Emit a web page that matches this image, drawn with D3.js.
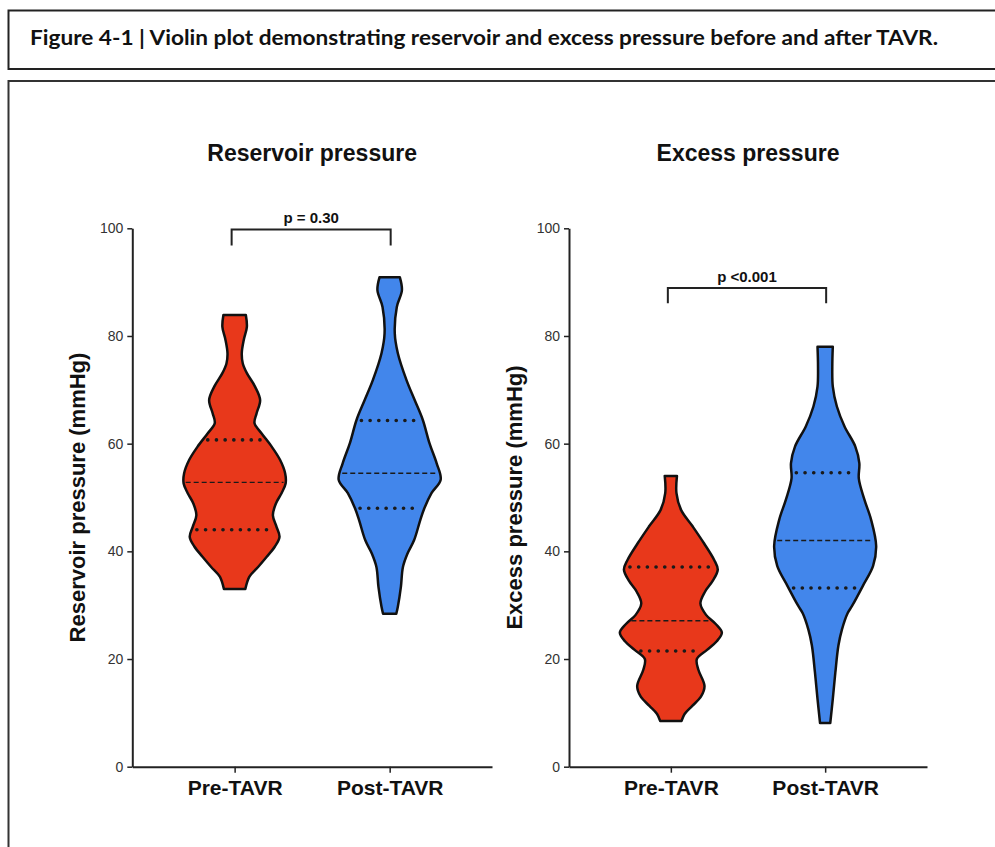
<!DOCTYPE html>
<html>
<head>
<meta charset="utf-8">
<script src="https://cdn.jsdelivr.net/npm/d3@7"></script>
<style>
  html, body { margin: 0; padding: 0; background: #fff; }
  svg { display: block; }
</style>
</head>
<body>
<script>
// ---------------- DATA ----------------
const figureCaption = "Figure 4-1 | Violin plot demonstrating reservoir and excess pressure before and after TAVR.";
const categories = ["Pre-TAVR", "Post-TAVR"];
const panelTitles = ["Reservoir pressure", "Excess pressure"];
const yAxisTitles = ["Reservoir pressure (mmHg)", "Excess pressure (mmHg)"];
const yTicks = [0, 20, 40, 60, 80, 100];
const pLabels = ["p = 0.30", "p <0.001"];
const bracketTop = [99.8, 88.9];      // mmHg level of comparison bracket
const bracketDrop = [3.0, 2.8];       // mmHg length of bracket legs

// violin outlines: value (mmHg) and relative density (0-1)
const reservoirPreValues  = [83.9, 81.7, 79.3, 76.8, 74.9, 73.1, 70.6, 68.1, 65.6, 63.8, 61.9, 59.4, 57.0, 54.5, 52.6, 50.8, 48.9, 46.7, 44.6, 42.7, 40.9, 39.0, 37.1, 35.3, 33.0];
const reservoirPreDensity = [0.22, 0.24, 0.18, 0.14, 0.16, 0.24, 0.40, 0.50, 0.43, 0.39, 0.53, 0.73, 0.89, 0.99, 1.00, 0.92, 0.81, 0.75, 0.82, 0.88, 0.79, 0.63, 0.46, 0.29, 0.21];

const reservoirPostValues  = [90.9, 88.5, 85.4, 80.5, 76.8, 71.8, 68.1, 64.4, 60.1, 56.4, 53.3, 50.8, 48.0, 45.8, 42.1, 39.6, 37.1, 33.4, 29.7, 28.4];
const reservoirPostDensity = [0.20, 0.24, 0.14, 0.10, 0.16, 0.33, 0.49, 0.65, 0.78, 0.92, 1.00, 0.82, 0.68, 0.60, 0.48, 0.35, 0.26, 0.22, 0.16, 0.13];

const excessPreValues  = [54.0, 50.8, 47.7, 44.6, 41.5, 38.4, 36.6, 34.5, 32.5, 30.3, 28.2, 26.5, 24.9, 23.3, 21.7, 20.0, 18.0, 15.0, 13.0, 11.3, 9.8, 8.5];
const excessPreDensity = [0.12, 0.11, 0.20, 0.43, 0.65, 0.85, 0.92, 0.82, 0.67, 0.58, 0.69, 0.88, 1.00, 0.90, 0.71, 0.51, 0.54, 0.66, 0.59, 0.42, 0.27, 0.21];

const excessPostValues  = [78.0, 74.3, 70.6, 66.9, 63.2, 59.5, 56.4, 53.5, 49.6, 45.9, 41.0, 37.3, 33.6, 29.9, 28.5, 25.5, 22.5, 17.5, 12.6, 8.1];
const excessPostDensity = [0.15, 0.14, 0.15, 0.23, 0.38, 0.59, 0.67, 0.66, 0.77, 0.90, 1.00, 0.94, 0.74, 0.53, 0.44, 0.33, 0.26, 0.20, 0.15, 0.10];

// medians and quartiles [Q1, median, Q3]
const reservoirPreStats  = [44.0, 52.8, 60.7];
const reservoirPostStats = [48.0, 54.5, 64.3];
const excessPreStats     = [21.5, 27.1, 37.1];
const excessPostStats    = [33.2, 42.0, 54.6];

const groupColors = ["#E8381B", "#4286EB"];

// ---------------- BUILD ----------------
const W = 995, H = 847;
const svg = d3.select("body").append("svg").attr("width", W).attr("height", H);

// frames
svg.append("rect").attr("x", 8.5).attr("y", 10.5).attr("width", 1000).attr("height", 58.5)
  .attr("fill", "none").attr("stroke", "#222").attr("stroke-width", 2);
svg.append("rect").attr("x", 8.5).attr("y", 81).attr("width", 1000).attr("height", 800)
  .attr("fill", "none").attr("stroke", "#333").attr("stroke-width", 2);

svg.append("text").attr("x", 30).attr("y", 44.5)
  .attr("font-family", "Lato, 'Open Sans', sans-serif").attr("font-weight", 700)
  .attr("font-size", 21).attr("fill", "#111")
  .attr("textLength", 908).attr("lengthAdjust", "spacingAndGlyphs")
  .text(figureCaption);

const panels = [
  { title: panelTitles[0], ytitle: yAxisTitles[0], x0: 132.3, x1: 492,
    violins: [
      { values: reservoirPreValues, density: reservoirPreDensity, stats: reservoirPreStats },
      { values: reservoirPostValues, density: reservoirPostDensity, stats: reservoirPostStats }],
    p: pLabels[0], bTop: bracketTop[0], bDrop: bracketDrop[0] },
  { title: panelTitles[1], ytitle: yAxisTitles[1], x0: 569, x1: 927,
    violins: [
      { values: excessPreValues, density: excessPreDensity, stats: excessPreStats },
      { values: excessPostValues, density: excessPostDensity, stats: excessPostStats }],
    p: pLabels[1], bTop: bracketTop[1], bDrop: bracketDrop[1] }
];

const y = d3.scaleLinear().domain([0, 100]).range([766.7, 228.3]);
const w = d3.scaleLinear().domain([0, 1]).range([0, 51]);
const FONT = "'Liberation Sans', Arial, Helvetica, sans-serif";

function densityAt(vals, dens, v) {
  for (let i = 0; i < vals.length - 1; i++) {
    const a = vals[i], b = vals[i + 1];
    if (v <= a && v >= b) {
      const t = (a - v) / (a - b);
      return dens[i] + t * (dens[i + 1] - dens[i]);
    }
  }
  return 0;
}

panels.forEach(p => {
  const g = svg.append("g");
  const x = d3.scalePoint().domain(categories).range([p.x0, p.x1]).padding(0.66);
  const cx = (p.x0 + p.x1) / 2;

  g.append("text").attr("x", cx).attr("y", 161).attr("text-anchor", "middle")
    .attr("font-family", FONT).attr("font-weight", 700).attr("font-size", 23).attr("fill", "#111")
    .text(p.title);

  const ym = (y(0) + y(100)) / 2;
  g.append("text").attr("transform", `translate(${p.x0 - 47.3},${ym}) rotate(-90)`)
    .attr("text-anchor", "middle")
    .attr("font-family", FONT).attr("font-weight", 700).attr("font-size", 22).attr("fill", "#111")
    .text(p.ytitle);

  p.violins.forEach((vd, i) => {
    const c = x(categories[i]);
    const pts = vd.values.map((v, k) => [v, vd.density[k]]);
    const area = d3.area()
      .y(d => y(d[0]))
      .x0(d => c - w(d[1]))
      .x1(d => c + w(d[1]))
      .curve(d3.curveCatmullRom.alpha(0.5));
    g.append("path").datum(pts).attr("d", area)
      .attr("fill", groupColors[i]).attr("stroke", "#111").attr("stroke-width", 2.5)
      .attr("stroke-linejoin", "round");

    vd.stats.forEach((s, k) => {
      const half = w(densityAt(vd.values, vd.density, s));
      const isMedian = k === 1;
      const inset = isMedian ? 2 : 5;
      g.append("line")
        .attr("x1", c - half + inset).attr("x2", c + half - inset)
        .attr("y1", y(s)).attr("y2", y(s))
        .attr("stroke", "#1a1a1a")
        .attr("stroke-width", isMedian ? 1.4 : 3.6)
        .attr("stroke-linecap", isMedian ? "butt" : "round")
        .attr("stroke-dasharray", isMedian ? "5,3" : "0.1,8.6");
    });
  });

  const ya = g.append("g").attr("transform", `translate(${p.x0},0)`)
    .call(d3.axisLeft(y).tickValues(yTicks).tickFormat(d3.format("d")).tickSize(5).tickSizeOuter(0).tickPadding(4));
  ya.select(".domain").attr("stroke", "#222").attr("stroke-width", 2);
  ya.selectAll(".tick line").attr("stroke", "#222").attr("stroke-width", 1.5);
  ya.selectAll(".tick text").attr("font-family", FONT).attr("font-size", 14).attr("fill", "#333");

  const xa = g.append("g").attr("transform", `translate(0,${y(0)})`)
    .call(d3.axisBottom(x).tickSize(6).tickSizeOuter(0));
  xa.select(".domain").attr("stroke", "#222").attr("stroke-width", 2);
  xa.selectAll(".tick line").attr("stroke", "#222").attr("stroke-width", 1.5);
  xa.selectAll(".tick text").attr("font-family", FONT).attr("font-weight", 700)
    .attr("font-size", 21).attr("fill", "#111").attr("y", 28.3).attr("dy", 0);

  const bx0 = x(categories[0]) - 3, bx1 = x(categories[1]) + 1;
  const bt = y(p.bTop), bb = y(p.bTop - p.bDrop);
  g.append("path")
    .attr("d", `M${bx0},${bb}V${bt}H${bx1}V${bb}`)
    .attr("fill", "none").attr("stroke", "#222").attr("stroke-width", 2);
  g.append("text").attr("x", (bx0 + bx1) / 2).attr("y", bt - 6.5).attr("text-anchor", "middle")
    .attr("font-family", FONT).attr("font-weight", 700).attr("font-size", 15).attr("fill", "#111")
    .text(p.p);
});
</script>
</body>
</html>
